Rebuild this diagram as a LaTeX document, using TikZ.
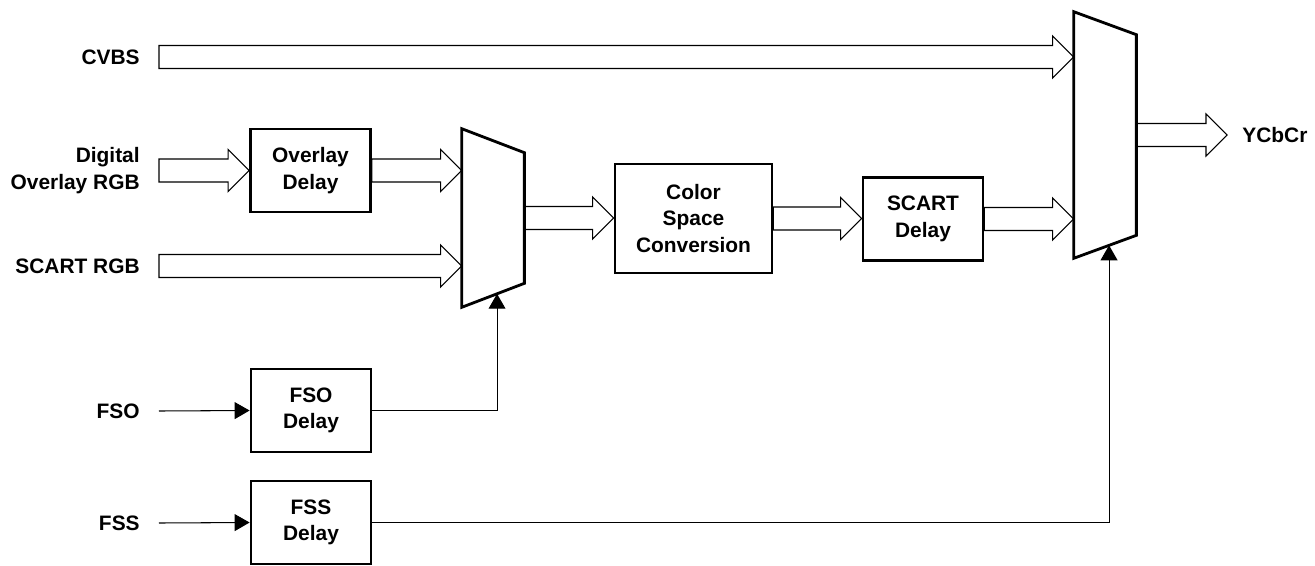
\documentclass[tikz,border=0pt]{standalone}
\usepackage{fontspec}
\setmainfont{Liberation Sans}
\usetikzlibrary{arrows.meta,calc}
\tikzset{
    box/.style ={
        rectangle,
        minimum width =2.4cm,
        minimum height =1.66cm,
        inner sep=2pt,
        align=center,
        line width=1.6pt,
        draw=black
    },
    lbl/.style ={
        inner sep=0pt,
        align=right
    },
    mux/.style ={
        rectangle,
        minimum width =1.24cm,
        inner sep=0pt
    },
    muxline/.style ={line width=1.6pt, line join=miter},
    ctl/.style ={line width=0.6pt, -{Triangle[length=8.5pt,width=9.6pt]}},
    bus/.style ={
        draw, line width=0.6pt,
        to path={let \p1=(\tikztostart), \p2=(\tikztotarget) in
            (\x1,\y1+0.23cm) -- (\x2-0.42cm,\y1+0.23cm) -- (\x2-0.42cm,\y1+0.42cm)
            -- (\x2,\y1) -- (\x2-0.42cm,\y1-0.42cm) -- (\x2-0.42cm,\y1-0.23cm)
            -- (\x1,\y1-0.23cm) -- cycle}
    }
}

\begin{document}
\begin{tikzpicture}[x=0.02cm, y=-0.02cm, font=\bfseries\fontsize{11.9}{15}\selectfont]
        \useasboundingbox (0,0) rectangle (1315,565);
        \node[lbl, anchor=east] (cvbs) at (140,57) {CVBS};
        \node[lbl, anchor=east] (dig) at (140,170.5) {Digital\\Overlay RGB};
        \node[lbl, anchor=east] (scart) at (140,266) {SCART RGB};
        \node[lbl, anchor=east] (fso) at (140,411) {FSO};
        \node[lbl, anchor=east] (fss) at (140,523) {FSS};
        \node[lbl, anchor=west] (ycbcr) at (1242,135) {YCbCr};
        \node[box] (ovl) at (310.5,170.5) {Overlay\\Delay};
        \node[box] (fsodly) at (311,410.5) {FSO\\Delay};
        \node[box] (fssdly) at (311,522.5) {FSS\\Delay};
        \node[box, minimum width=3.14cm, minimum height=2.18cm] (csc) at (693.5,218.5) {Color\\Space\\Conversion};
        \node[box] (scdly) at (923,219) {SCART\\Delay};
        \node[mux, minimum height=3.56cm] (mux1) at (493,218) {};
        \node[mux, minimum height=4.92cm] (mux2) at (1105,135) {};
        % multiplexers
        \draw[muxline] (mux1.north west) -- ([yshift=-0.48cm]mux1.north east) -- ([yshift=0.48cm]mux1.south east) -- (mux1.south west) -- cycle;
        \draw[muxline] (mux2.north west) -- ([yshift=-0.46cm]mux2.north east) -- ([yshift=0.46cm]mux2.south east) -- (mux2.south west) -- cycle;
        \coordinate (sel1) at ($(mux1.south west)!35/62!([yshift=0.48cm]mux1.south east)$);
        \coordinate (sel2) at ($(mux2.south west)!35/62!([yshift=0.46cm]mux2.south east)$);
        % data paths
        \draw[bus] ([xshift=0.38cm]cvbs.east) to (mux2.west |- cvbs.east);
        \draw[bus] ([xshift=0.38cm]dig.east) to (ovl.west);
        \draw[bus] (ovl.east) to (mux1.west |- ovl.east);
        \draw[bus] ([xshift=0.38cm]scart.east) to (mux1.west |- scart.east);
        \draw[bus] (mux1.east) to (csc.west);
        \draw[bus] (csc.east) to (scdly.west);
        \draw[bus] (scdly.east) to (mux2.west |- scdly.east);
        \draw[bus] (mux2.east) to ([xshift=-0.3cm]ycbcr.west);
        % select lines
        \draw[ctl] ([xshift=0.38cm]fso.east) -- (fsodly.west);
        \draw[ctl] ([xshift=0.38cm]fss.east) -- (fssdly.west);
        \draw[ctl] (fsodly.east) -| (sel1);
        \draw[ctl] (fssdly.east) -| (sel2);
    \end{tikzpicture}
\end{document}
